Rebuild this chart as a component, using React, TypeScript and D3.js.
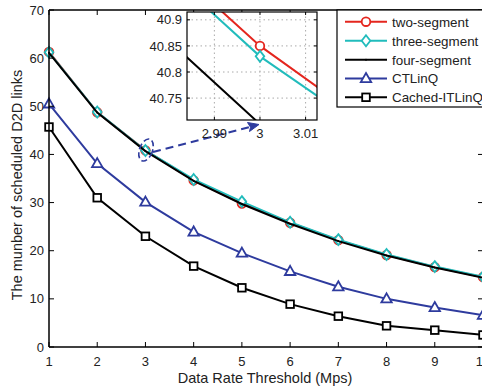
import React from "react";
import * as d3 from "d3";

const xValues = [1, 2, 3, 4, 5, 6, 7, 8, 9, 10];
const twoSegment = [61.3, 48.75, 40.85, 34.6, 29.8, 25.8, 22.2, 19.1, 16.6, 14.5];
const threeSegment = [61.2, 48.8, 40.83, 34.8, 30.2, 25.9, 22.3, 19.2, 16.7, 14.6];
const fourSegment = [61.1, 48.7, 40.7, 34.5, 29.7, 25.6, 22.0, 19.0, 16.5, 14.4];
const ctlinq = [50.5, 38.1, 30.1, 23.9, 19.5, 15.7, 12.5, 10.0, 8.2, 6.6];
const cachedItlinq = [45.7, 31.0, 23.0, 16.8, 12.3, 8.9, 6.4, 4.4, 3.5, 2.5];
const seriesNames = ["two-segment", "three-segment", "four-segment", "CTLinQ", "Cached-ITLinQ"];
const yTicks = [0, 10, 20, 30, 40, 50, 60, 70];
const xTicks = [1, 2, 3, 4, 5, 6, 7, 8, 9, 10];
const insetXTicks = [2.99, 3, 3.01];
const insetYTicks = [40.75, 40.8, 40.85, 40.9];

const RED = "#e4261e";
const CYAN = "#21bcbc";
const BLUE = "#2e3b9e";
const BLACK = "#000";

const series = [
  { name: seriesNames[0], values: twoSegment, color: RED, marker: "circle" },
  { name: seriesNames[1], values: threeSegment, color: CYAN, marker: "diamond" },
  { name: seriesNames[2], values: fourSegment, color: BLACK, marker: "dot" },
  { name: seriesNames[3], values: ctlinq, color: BLUE, marker: "triangle" },
  { name: seriesNames[4], values: cachedItlinq, color: BLACK, marker: "square" },
];

function Marker({ type, x, y, color }: { type: string; x: number; y: number; color: string }) {
  const sw = 1.8;
  if (type === "circle") return <circle cx={x} cy={y} r={4.3} fill="white" stroke={color} strokeWidth={sw} />;
  if (type === "diamond")
    return (
      <path
        d={`M${x},${y - 5.5}L${x + 4.3},${y}L${x},${y + 5.5}L${x - 4.3},${y}Z`}
        fill="white"
        stroke={color}
        strokeWidth={sw}
      />
    );
  if (type === "triangle")
    return (
      <path
        d={`M${x},${y - 5.5}L${x + 5.2},${y + 3.6}L${x - 5.2},${y + 3.6}Z`}
        fill="white"
        stroke={color}
        strokeWidth={sw}
      />
    );
  if (type === "square") return <rect x={x - 3.8} y={y - 3.8} width={7.6} height={7.6} fill="white" stroke={color} strokeWidth={sw} />;
  if (type === "dot") return <circle cx={x} cy={y} r={1} fill={color} />;
  return null;
}

export default function App() {
  const W = 482;
  const H = 389;
  const x = d3.scaleLinear().domain([1, 10]).range([49, 483]);
  const y = d3.scaleLinear().domain([0, 70]).range([347, 10]);
  const xi = d3.scaleLinear().domain([2.984, 3.0125]).range([187, 317]);
  const yi = d3.scaleLinear().domain([40.708, 40.915]).range([120, 12]);

  const line = d3
    .line<number>()
    .x((_, i) => x(xValues[i]))
    .y((d) => y(d));
  const lineI = d3
    .line<number>()
    .x((_, i) => xi(xValues[i]))
    .y((d) => yi(d));

  const font = "'Liberation Sans', Arial, Helvetica, sans-serif";
  const left = 49, right = 483, top = 10, bottom = 347;
  const tickFs = 13;

  const legendRows = [21.7, 40.7, 59.7, 78.5, 97.3];

  return (
    <svg
      width={W}
      height={H}
      style={{ position: "absolute", left: 0, top: 0, background: "white" }}
      fontFamily={font}
    >
      <defs>
        <clipPath id="insetclip">
          <rect x={187} y={12} width={130} height={108} />
        </clipPath>
      </defs>
      <rect x={0} y={0} width={W} height={H} fill="white" />

      {/* series */}
      {series.map((s) => (
        <g key={s.name}>
          <path d={line(s.values) || ""} fill="none" stroke={s.color} strokeWidth={2} />
          {s.values.map((v, i) => (
            <Marker key={i} type={s.marker} x={x(xValues[i])} y={y(v)} color={s.color} />
          ))}
        </g>
      ))}

      {/* axes box */}
      <line x1={left} x2={left} y1={top} y2={bottom} stroke="#000" strokeWidth={1.5} />
      <line x1={left} x2={right} y1={top} y2={top} stroke="#000" strokeWidth={1.5} />
      <line x1={left} x2={right} y1={bottom} y2={bottom} stroke="#000" strokeWidth={1.5} />
      <line x1={right} x2={right} y1={top} y2={bottom} stroke="#000" strokeWidth={1.5} />
      {xTicks.map((t) => (
        <g key={"xt" + t}>
          <line x1={x(t)} x2={x(t)} y1={bottom} y2={bottom - 5} stroke="#000" strokeWidth={1} />
          <line x1={x(t)} x2={x(t)} y1={top} y2={top + 5} stroke="#000" strokeWidth={1} />
          <text x={x(t)} y={bottom + 19} textAnchor="middle" fontSize={tickFs} fill="#222">
            {t}
          </text>
        </g>
      ))}
      {yTicks.map((t) => (
        <g key={"yt" + t}>
          <line x1={left} x2={left + 5} y1={y(t)} y2={y(t)} stroke="#000" strokeWidth={1} />
          <line x1={right} x2={right - 5} y1={y(t)} y2={y(t)} stroke="#000" strokeWidth={1} />
          <text x={44} y={y(t) + 4.6} textAnchor="end" fontSize={tickFs} fill="#222">
            {t}
          </text>
        </g>
      ))}
      <text x={265} y={383} textAnchor="middle" fontSize={14.5} fill="#222">
        Data Rate Threshold (Mps)
      </text>
      <text
        transform={`translate(22,${185}) rotate(-90)`}
        textAnchor="middle"
        fontSize={14.5}
        fill="#222"
      >
        The munber of scheduled D2D links
      </text>

      {/* dashed ellipse and arrow */}
      <ellipse
        cx={146}
        cy={150}
        rx={6.5}
        ry={11.5}
        transform="rotate(20 146 150)"
        fill="none"
        stroke={BLUE}
        strokeWidth={1.6}
        strokeDasharray="6,3"
      />
      <line x1={153} y1={152} x2={250} y2={127} stroke={BLUE} strokeWidth={2} strokeDasharray="8,5" />
      <path d="M259,124.5 L247.5,122.5 L250.5,127.2 L249.5,131.5 Z" fill={BLUE} stroke={BLUE} strokeWidth={1} />

      {/* inset */}
      <rect x={187} y={12} width={130} height={108} fill="white" stroke="none" />
      {insetXTicks.map((t) => (
        <line key={"igx" + t} x1={xi(t)} x2={xi(t)} y1={12} y2={120} stroke="#aaa" strokeWidth={1} strokeDasharray="1.5,3" />
      ))}
      {insetYTicks.map((t) => (
        <line key={"igy" + t} x1={187} x2={317} y1={yi(t)} y2={yi(t)} stroke="#aaa" strokeWidth={1} strokeDasharray="1.5,3" />
      ))}
      <g clipPath="url(#insetclip)">
        {series.slice(0, 3).map((s) => (
          <g key={"in" + s.name}>
            <path d={lineI(s.values) || ""} fill="none" stroke={s.color} strokeWidth={2} />
            {s.marker !== "dot" && <Marker type={s.marker} x={xi(3)} y={yi(s.values[2])} color={s.color} />}
          </g>
        ))}
      </g>
      <rect x={187} y={12} width={130} height={108} fill="none" stroke="#000" strokeWidth={1.2} />
      {insetXTicks.map((t) => (
        <g key={"ixt" + t}>
          <line x1={xi(t)} x2={xi(t)} y1={120} y2={117} stroke="#000" strokeWidth={1} />
          <line x1={xi(t)} x2={xi(t)} y1={12} y2={15} stroke="#000" strokeWidth={1} />
          <text x={xi(t)} y={138} textAnchor="middle" fontSize={tickFs} fill="#222">
            {t}
          </text>
        </g>
      ))}
      {insetYTicks.map((t) => (
        <g key={"iyt" + t}>
          <line x1={187} x2={190} y1={yi(t)} y2={yi(t)} stroke="#000" strokeWidth={1} />
          <line x1={317} x2={314} y1={yi(t)} y2={yi(t)} stroke="#000" strokeWidth={1} />
          <text x={182} y={yi(t) + 4.6} textAnchor="end" fontSize={tickFs} fill="#222">
            {t}
          </text>
        </g>
      ))}

      {/* legend */}
      <rect x={337} y={10} width={160} height={97} fill="white" stroke="#000" strokeWidth={1.2} />
      {series.map((s, i) => (
        <g key={"lg" + s.name}>
          <line x1={345} x2={387} y1={legendRows[i]} y2={legendRows[i]} stroke={s.color} strokeWidth={2} />
          <Marker type={s.marker} x={366} y={legendRows[i]} color={s.color} />
          <text x={392} y={legendRows[i] + 4.8} fontSize={13.4} fill="#222">
            {s.name}
          </text>
        </g>
      ))}
    </svg>
  );
}
